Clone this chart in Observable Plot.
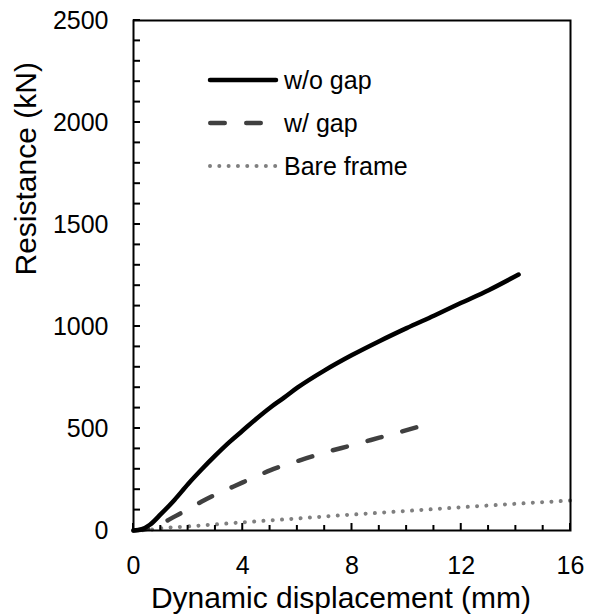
<!DOCTYPE html>
<html>
<head>
<meta charset="utf-8">
<script src="https://cdn.jsdelivr.net/npm/d3@7"></script>
<script src="https://cdn.jsdelivr.net/npm/@observablehq/plot@0.6"></script>
<style>
  body { margin: 0; background: #fff; }
  #chart { width: 589px; height: 616px; }
</style>
</head>
<body>
<div id="chart"></div>
<script>
// Resistance vs. dynamic displacement for three frame configurations
const dispNoGap = [0, 0.3, 0.6, 1, 1.5, 2, 2.5, 3, 3.5, 4, 4.5, 5, 5.5, 6, 7, 8, 9, 10, 11, 12, 13, 14.1];
const resNoGap  = [0, 6, 28, 80, 150, 228, 300, 368, 432, 490, 548, 602, 650, 700, 785, 860, 928, 992, 1053, 1116, 1178, 1255];

const dispGap = [0, 0.5, 1, 1.5, 2, 2.5, 3, 3.5, 4, 4.5, 5, 5.5, 6, 7, 8, 9, 10, 10.8];
const resGap  = [0, 8, 32, 68, 104, 142, 176, 206, 236, 265, 295, 319, 340, 382, 418, 455, 492, 523];

const dispBare = [0, 0.5, 1, 2, 4, 6, 8, 10, 12, 14, 16];
const resBare  = [0, 2, 11, 20, 40, 59, 78, 96, 114, 131, 147];

const seriesNames = ["w/o gap", "w/ gap", "Bare frame"];

const xMajorTicks = [0, 4, 8, 12, 16];
const xMinorTicks = d3.range(0, 17, 1);
const yMajorTicks = [0, 500, 1000, 1500, 2000, 2500];
const yMinorTicks = d3.range(0, 2501, 100);

const xTitle = "Dynamic displacement (mm)";
const yTitle = "Resistance (kN)";

const rows = (xs, ys) => xs.map((d, i) => ({d, r: ys[i]}));

// Line styles shared by the plot and the legend
const styles = [
  {stroke: "#000000", strokeWidth: 4.5, dash: null},
  {stroke: "#404040", strokeWidth: 4.5, dash: "14.5,21.5"},
  {stroke: "#7f7f7f", strokeWidth: 4, dash: "0.01,9.3"}
];

const lineOpts = (s) => ({
  x: "d", y: "r", curve: "monotone-x",
  stroke: s.stroke, strokeWidth: s.strokeWidth,
  strokeDasharray: s.dash ?? undefined,
  strokeLinecap: "round", strokeLinejoin: "round"
});

const font = "'Liberation Sans', Arial, sans-serif";

const plot = Plot.plot({
  width: 589,
  height: 616,
  marginLeft: 133,
  marginRight: 19,
  marginTop: 20,
  marginBottom: 86,
  style: {fontFamily: font, fontSize: "25px", color: "#000"},
  x: {domain: [0, 16]},
  y: {domain: [0, 2500]},
  marks: [
    // tick labels
    Plot.axisX(xMajorTicks, {tickSize: 0, tickPadding: 26, label: null, fontSize: 25, tickFormat: d3.format("d")}),
    Plot.axisY(yMajorTicks, {tickSize: 0, tickPadding: 25, label: null, fontSize: 25, tickFormat: d3.format("d")}),
    // series
    Plot.line(rows(dispBare, resBare), lineOpts(styles[2])),
    Plot.line(rows(dispGap, resGap), lineOpts(styles[1])),
    Plot.line(rows(dispNoGap, resNoGap), lineOpts(styles[0])),
    Plot.frame({stroke: "#000", strokeWidth: 2}),
    // axis titles
    Plot.text([xTitle], {frameAnchor: "bottom", dx: -11, dy: 77, lineAnchor: "bottom", fontSize: 30, fill: "#000"}),
    Plot.text([yTitle], {frameAnchor: "left", dx: -98, rotate: -90, lineAnchor: "bottom", fontSize: 30, fill: "#000"})
  ]
});

document.getElementById("chart").appendChild(plot);

// Inward tick marks, positioned with the plot's own scales
const sx = plot.scale("x"), sy = plot.scale("y");
const x0 = sx.apply(0), yBase = sy.apply(0);
const ticks = d3.select(plot).append("g")
  .attr("class", "inner-ticks")
  .attr("stroke", "#000")
  .attr("stroke-width", 2);

ticks.selectAll("line.xt")
  .data(xMinorTicks)
  .join("line")
  .attr("class", "xt")
  .attr("x1", d => sx.apply(d)).attr("x2", d => sx.apply(d))
  .attr("y1", yBase)
  .attr("y2", d => yBase - (xMajorTicks.includes(d) ? 7 : 5));

ticks.selectAll("line.yt")
  .data(yMinorTicks)
  .join("line")
  .attr("class", "yt")
  .attr("x1", x0).attr("x2", x0 + 7)
  .attr("y1", d => sy.apply(d)).attr("y2", d => sy.apply(d));

// Legend inside the plot area, upper left
const legend = d3.select(plot).append("g")
  .attr("class", "legend")
  .attr("text-anchor", "start");

seriesNames.forEach((name, i) => {
  const s = styles[i];
  const cy = 80 + i * 43;
  const dashed = i === 1;
  legend.append("line")
    .attr("x1", dashed ? 210.25 : 210)
    .attr("x2", dashed ? 270 : 276)
    .attr("y1", cy).attr("y2", cy)
    .attr("stroke", s.stroke)
    .attr("stroke-width", s.strokeWidth)
    .attr("stroke-linecap", "round")
    .attr("stroke-dasharray", s.dash);
  legend.append("text")
    .attr("x", 284)
    .attr("y", cy)
    .attr("dy", "0.35em")
    .attr("text-anchor", "start")
    .attr("font-family", font)
    .attr("font-size", 25)
    .attr("fill", "#000")
    .text(name);
});
</script>
</body>
</html>
